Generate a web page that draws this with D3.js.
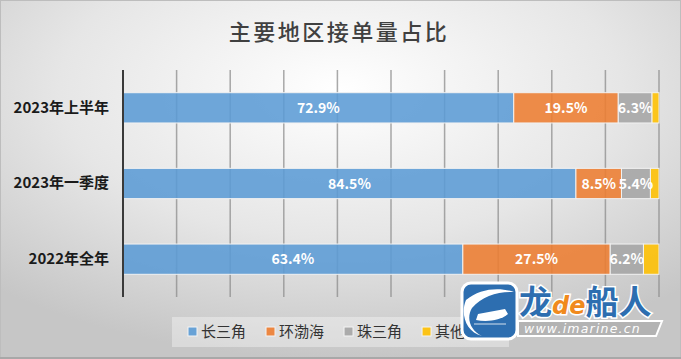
<!DOCTYPE html>
<html><head><meta charset="utf-8">
<script src="https://cdn.jsdelivr.net/npm/d3@7/dist/d3.min.js"></script>
<style>
html,body{margin:0;padding:0;background:#fff;}
svg{display:block;font-family:"Noto Sans CJK SC","Noto Sans",sans-serif;}
</style></head>
<body><svg id="c" width="681" height="359"></svg>
<script>
const title = "主要地区接单量占比";
const categories = ["2023年上半年", "2023年一季度", "2022年全年"];
const seriesNames = ["长三角", "环渤海", "珠三角", "其他地区"];
const changSanJiao = [72.9, 84.5, 63.4];
const huanBoHai = [19.5, 8.5, 27.5];
const zhuSanJiao = [6.3, 5.4, 6.2];
const qiTa = [1.3, 1.6, 2.9];
const xTicks = [0, 10, 20, 30, 40, 50, 60, 70, 80, 90, 100];
const colors = ["#5B9BD5", "#ED7D31", "#A5A5A5", "#FFC000"];
const showLabel = [true, true, true, false];

const seriesValues = [changSanJiao, huanBoHai, zhuSanJiao, qiTa];
const rows = categories.map((c, i) => {
  const r = {cat: c};
  seriesNames.forEach((s, j) => r[s] = seriesValues[j][i]);
  return r;
});
const stacked = d3.stack().keys(seriesNames)(rows);

const svg = d3.select("#c");
const W = 681, H = 359;
const defs = svg.append("defs");
const bg = defs.append("radialGradient").attr("id", "bg")
  .attr("cx", "0.5").attr("cy", "0.25").attr("r", "0.75");
bg.append("stop").attr("offset", "0").attr("stop-color", "#ffffff");
bg.append("stop").attr("offset", "0.55").attr("stop-color", "#e6e6e6");
bg.append("stop").attr("offset", "1").attr("stop-color", "#c6c6c6");
svg.append("rect").attr("width", W).attr("height", H).attr("fill", "url(#bg)");
svg.append("rect").attr("x", 0.5).attr("y", 0.5).attr("width", W - 1).attr("height", H - 1)
  .attr("fill", "none").attr("stroke", "#bdbdbd");
svg.append("line").attr("x1", 0).attr("x2", W).attr("y1", H - 1).attr("y2", H - 1)
  .attr("stroke", "#a8a8a8").attr("stroke-width", 2);

svg.append("text").attr("x", 339).attr("y", 40).attr("text-anchor", "middle")
  .attr("font-size", 22).attr("font-weight", 500).attr("fill", "#404040").attr("letter-spacing", 2.5)
  .text(title);

const x = d3.scaleLinear().domain([0, 100]).range([123, 659]);
const y = d3.scaleBand().domain(categories).range([70, 297]).paddingInner(0.6).paddingOuter(0.3);

// gridlines
svg.append("g").selectAll("line").data(xTicks.slice(1)).join("line")
  .attr("x1", d => x(d)).attr("x2", d => x(d)).attr("y1", 70).attr("y2", 297)
  .attr("stroke", "#8c8c8c").attr("stroke-width", 1.5).attr("stroke-opacity", 0.75);

// bars
const g = svg.append("g");
stacked.forEach((layer, j) => {
  g.append("g").selectAll("rect").data(layer).join("rect")
    .attr("x", d => x(d[0])).attr("width", d => x(d[1]) - x(d[0]))
    .attr("y", d => y(d.data.cat)).attr("height", y.bandwidth())
    .attr("fill", colors[j]).attr("fill-opacity", 0.88)
    .attr("stroke", "#f2f2f2").attr("stroke-width", 1);
});
stacked.forEach((layer, j) => {
  if (!showLabel[j]) return;
  g.append("g").selectAll("text").data(layer).join("text")
    .attr("x", d => (x(d[0]) + x(d[1])) / 2)
    .attr("y", d => y(d.data.cat) + y.bandwidth() / 2)
    .attr("dy", "0.36em").attr("text-anchor", "middle")
    .attr("font-size", 14).attr("font-weight", "bold").attr("fill", "#ffffff")
    .text(d => (d[1] - d[0]).toFixed(1) + "%");
});

// y axis
const yAxis = svg.append("g").attr("transform", "translate(123,0)")
  .call(d3.axisLeft(y).tickSize(0).tickPadding(14));
yAxis.select(".domain").remove();
yAxis.append("line").attr("x1", 0).attr("x2", 0).attr("y1", 70).attr("y2", 297)
  .attr("stroke", "#3a3a3a").attr("stroke-width", 2);
yAxis.selectAll(".tick text").attr("font-size", 15).attr("font-weight", "bold")
  .attr("fill", "#1a1a1a")
  .attr("font-family", "'Noto Sans CJK SC','Noto Sans',sans-serif");

// legend
svg.append("rect").attr("x", 172).attr("y", 317).attr("width", 337).attr("height", 30)
  .attr("fill", "#ffffff").attr("fill-opacity", 0.35);
let lx = 188;
seriesNames.forEach((s, j) => {
  svg.append("rect").attr("x", lx).attr("y", 327).attr("width", 9).attr("height", 9)
    .attr("fill", colors[j]).attr("fill-opacity", 0.9).attr("stroke", "#f4f4f4").attr("stroke-width", 1);
  const t = svg.append("text").attr("x", lx + 13).attr("y", 337)
    .attr("font-size", 15).attr("fill", "#333333").text(s);
  lx += 13 + t.node().getComputedTextLength() + 20;
});

// watermark
const wm = svg.append("g");
wm.append("rect").attr("x", 462).attr("y", 283).attr("width", 55).attr("height", 56).attr("rx", 9)
  .attr("fill", "#2d6eb0").attr("stroke", "#ffffff").attr("stroke-width", 3);
wm.append("path").attr("d", "M466,300 C480,288 500,287 514,292 C498,291 482,296 472,308 C466,318 470,330 482,336 C466,332 460,314 466,300 Z")
  .attr("fill", "#ffffff");
wm.append("path").attr("d", "M478,314 L505,309 L508,314 C500,321 486,322 476,320 Z").attr("fill", "#ffffff");
wm.append("line").attr("x1", 474).attr("x2", 506).attr("y1", 324).attr("y2", 324).attr("stroke", "#ffffff").attr("stroke-width", 0.8);
wm.append("path").attr("d", "M518,321 L662,321 L656,336 L518,336 Z")
  .attr("fill", "#b3b3b3").attr("stroke", "#ffffff").attr("stroke-width", 2);
wm.append("text").attr("x", 524).attr("y", 333).attr("font-size", 12.5).attr("font-style", "italic")
  .attr("fill", "#ffffff").attr("font-family", "'DejaVu Sans',sans-serif").attr("letter-spacing", 1.2)
  .text("www.imarine.cn");
const brand = wm.append("text").attr("y", 314).attr("font-weight", "bold")
  .attr("stroke", "#ffffff").attr("stroke-width", 3).attr("paint-order", "stroke");
brand.append("tspan").attr("x", 519).attr("font-size", 33).attr("fill", "#2d6eb0").text("龙");
brand.append("tspan").attr("font-size", 24).attr("font-style", "italic").attr("fill", "#f08a1d")
  .attr("font-family", "'DejaVu Sans',sans-serif").text("de");
brand.append("tspan").attr("font-size", 33).attr("fill", "#2d6eb0").text("船人");
</script></body></html>
